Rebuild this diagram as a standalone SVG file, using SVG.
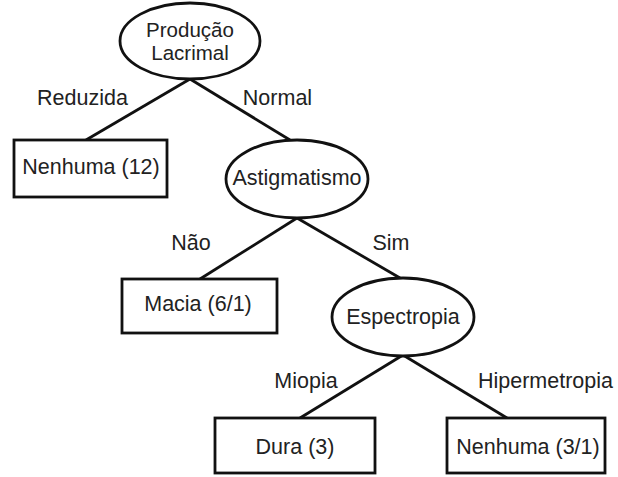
<svg xmlns="http://www.w3.org/2000/svg" width="618" height="477" viewBox="0 0 618 477">
<style>
.shape{fill:#fff;stroke:#111;stroke-width:2.8}
.edge{stroke:#111;stroke-width:2.8;fill:none}
text{font-family:"Liberation Sans",Arial,sans-serif;font-size:21.5px;fill:#222;text-anchor:middle}
.tight{font-size:20.5px}
</style>
<rect width="618" height="477" fill="#fff"/>
<g id="connectors">
<line class="edge" x1="190" y1="79" x2="86" y2="140"/>
<line class="edge" x1="190" y1="79" x2="290" y2="140"/>
<line class="edge" x1="297" y1="218" x2="200" y2="279"/>
<line class="edge" x1="297" y1="218" x2="400" y2="278"/>
<line class="edge" x1="403" y1="355" x2="300" y2="418"/>
<line class="edge" x1="403" y1="355" x2="507" y2="418"/>
<text x="82.5" y="105">Reduzida</text>
<text x="277.5" y="105">Normal</text>
<text x="191" y="250">Não</text>
<text x="391" y="250">Sim</text>
<text x="306" y="388">Miopia</text>
<text x="545.5" y="388">Hipermetropia</text>
</g>
<g id="producao-lacrimal">
<ellipse class="shape" cx="190" cy="41" rx="70" ry="38"/>
<text class="tight" x="190" y="37">Produção</text>
<text class="tight" x="190" y="60">Lacrimal</text>
</g>
<g id="nenhuma-12">
<rect class="shape" x="14" y="140" width="153" height="57"/>
<text x="91" y="174">Nenhuma (12)</text>
</g>
<g id="astigmatismo">
<ellipse class="shape" cx="297" cy="179" rx="71" ry="39"/>
<text x="297" y="185">Astigmatismo</text>
</g>
<g id="macia">
<rect class="shape" x="122" y="279" width="155" height="54"/>
<text x="198" y="311">Macia (6/1)</text>
</g>
<g id="espectropia">
<ellipse class="shape" cx="403" cy="317" rx="71" ry="39"/>
<text x="403" y="324">Espectropia</text>
</g>
<g id="dura">
<rect class="shape" x="215" y="418" width="160" height="55"/>
<text x="295" y="454">Dura (3)</text>
</g>
<g id="nenhuma-3-1">
<rect class="shape" x="447" y="418" width="158" height="55"/>
<text x="528" y="454">Nenhuma (3/1)</text>
</g>
</svg>
